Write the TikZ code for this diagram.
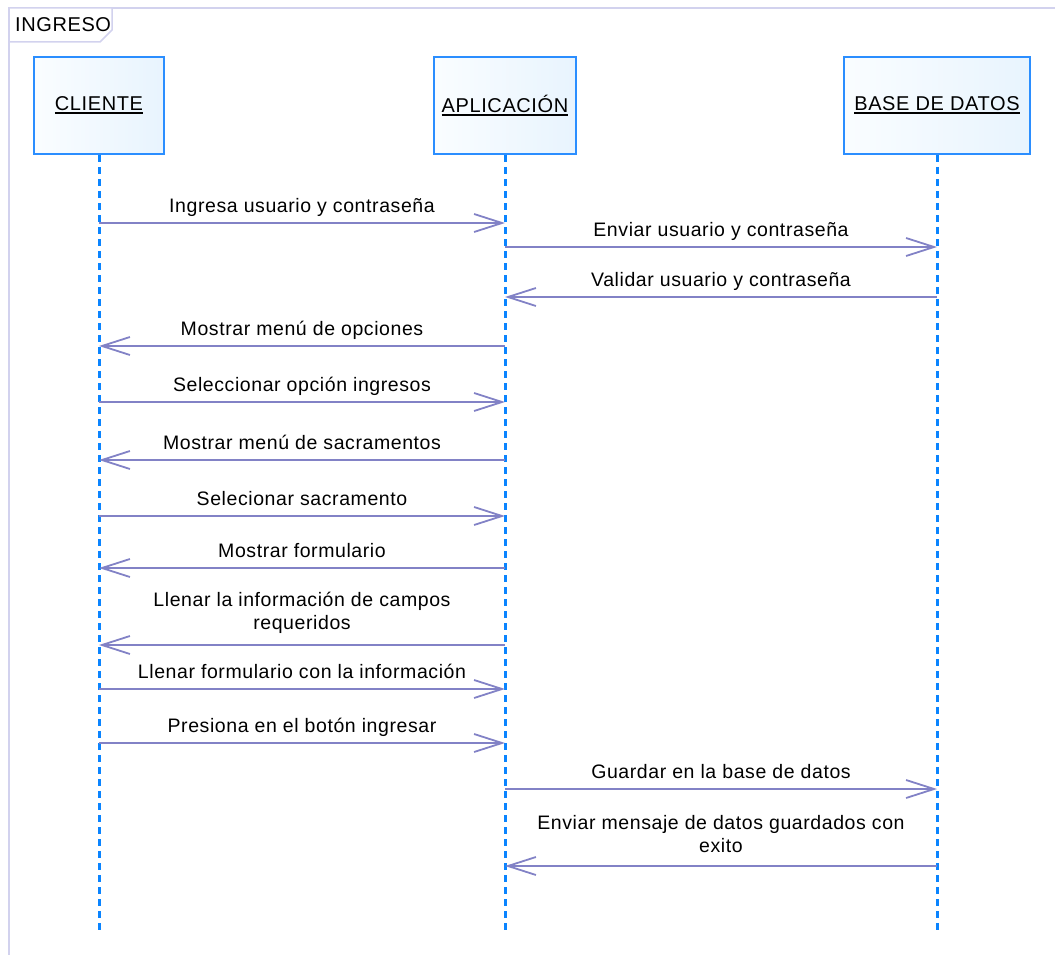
\documentclass[tikz,border=0pt]{standalone}
\usepackage{fontspec}
\setmainfont{Liberation Sans}[LetterSpace=3]
\usetikzlibrary{arrows.meta}
\definecolor{msgc}{HTML}{8282C6}
\definecolor{lifec}{HTML}{0A84FF}
\definecolor{boxc}{HTML}{2B8EFF}
\definecolor{boxfillL}{HTML}{FAFDFF}
\definecolor{boxfillR}{HTML}{E8F4FE}
\definecolor{framec}{HTML}{D2D2EE}
\newcommand\undl[1]{\setbox0=\hbox{#1}\rlap{\rule[-3pt]{\wd0}{1.5pt}}\box0}
\begin{document}
\begin{tikzpicture}[x=1pt,y=-1pt,
 part/.style={draw=boxc, line width=2pt, left color=boxfillL, right color=boxfillR, minimum height=97pt, inner sep=0pt, font=\fontsize{20}{24}\selectfont},
 lifeline/.style={draw=lifec, line width=3pt, dash pattern=on 7pt off 5pt},
 msg/.style={draw=msgc, line width=1.8pt, -{Straight Barb[length=28pt,width=18pt]}},
 lbl/.style={anchor=south, inner sep=0pt, text depth=0pt, font=\fontsize{19.5}{23}\selectfont, align=center},
 frm/.style={draw=framec, line width=1.5pt}]
\useasboundingbox (0,0) rectangle (1055,955);
% frame
\draw[frm] (9,955) -- (9,8) -- (1055,8);
\draw[frm, fill=white] (9,8) -- (112,8) -- (112,30) -- (100,42) -- (9,42) -- cycle;
\node[anchor=west, inner sep=0pt, font=\fontsize{20}{24}\selectfont] (flabel) at (15,25) {INGRESO};
% participants
\node[part, minimum width=130pt] (c) at (99,105.5) {\undl{CLIENTE}};
\node[part, minimum width=142pt] (a) at (505,105.5) {\undl{APLICACIÓN}};
\node[part, minimum width=186pt] (d) at (937,105.5) {\undl{BASE DE DATOS}};
% lifelines
\coordinate (cEnd) at (c |- 0,932);
\coordinate (aEnd) at (a |- 0,932);
\coordinate (dEnd) at (d |- 0,932);
\draw[lifeline] (c.south) -- (cEnd);
\draw[lifeline] (a.south) -- (aEnd);
\draw[lifeline] (d.south) -- (dEnd);
% messages
\draw[msg] (c |- 0,223) -- (a |- 0,223) node[lbl, midway, yshift=10pt] {Ingresa usuario y contraseña};
\draw[msg] (a |- 0,247) -- (d |- 0,247) node[lbl, midway, yshift=10pt] {Enviar usuario y contraseña};
\draw[msg] (d |- 0,297) -- (a |- 0,297) node[lbl, midway, yshift=10pt] {Validar usuario y contraseña};
\draw[msg] (a |- 0,346) -- (c |- 0,346) node[lbl, midway, yshift=10pt] {Mostrar menú de opciones};
\draw[msg] (c |- 0,402) -- (a |- 0,402) node[lbl, midway, yshift=10pt] {Seleccionar opción ingresos};
\draw[msg] (a |- 0,460) -- (c |- 0,460) node[lbl, midway, yshift=10pt] {Mostrar menú de sacramentos};
\draw[msg] (c |- 0,516) -- (a |- 0,516) node[lbl, midway, yshift=10pt] {Selecionar sacramento};
\draw[msg] (a |- 0,568) -- (c |- 0,568) node[lbl, midway, yshift=10pt] {Mostrar formulario};
\draw[msg] (a |- 0,645) -- (c |- 0,645) node[lbl, midway, yshift=15pt] {Llenar la información de campos\\requeridos};
\draw[msg] (c |- 0,689) -- (a |- 0,689) node[lbl, midway, yshift=10pt] {Llenar formulario con la información};
\draw[msg] (c |- 0,743) -- (a |- 0,743) node[lbl, midway, yshift=10pt] {Presiona en el botón ingresar};
\draw[msg] (a |- 0,789) -- (d |- 0,789) node[lbl, midway, yshift=10pt] {Guardar en la base de datos};
\draw[msg] (d |- 0,866) -- (a |- 0,866) node[lbl, midway, yshift=13pt] {Enviar mensaje de datos guardados con\\exito};
\end{tikzpicture}
\end{document}
